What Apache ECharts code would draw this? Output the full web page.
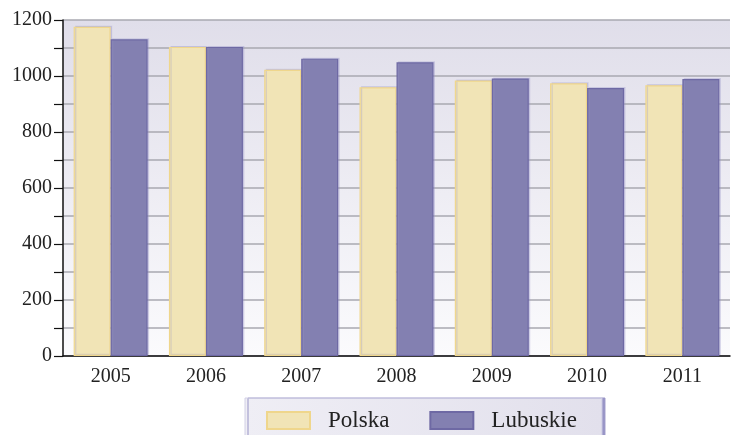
<!DOCTYPE html>
<html>
<head>
<meta charset="utf-8">
<script src="https://cdn.jsdelivr.net/npm/echarts@6/dist/echarts.min.js"></script>
<style>html,body{margin:0;padding:0;background:#fff;}#c{width:733px;height:435px;}</style>
</head>
<body>
<div id="c"></div>
<script>
var years = ['2005', '2006', '2007', '2008', '2009', '2010', '2011'];
var polska = [1176, 1104, 1022, 960, 984, 974, 967];
var lubuskie = [1131, 1104, 1062, 1049, 991, 957, 989];
var seriesNames = ['Polska', 'Lubuskie'];
var yLabelStep = 200;

var chart = echarts.init(document.getElementById('c'), null, {renderer: 'canvas'});
var font = '"Liberation Serif", "DejaVu Serif", serif';
chart.setOption({
  animation: false,
  grid: {
    left: 63, top: 20, right: 3, bottom: 79,
    show: true,
    borderWidth: 0,
    backgroundColor: new echarts.graphic.LinearGradient(0, 0, 0, 1, [
      {offset: 0, color: '#e0deea'},
      {offset: 1, color: '#fbfbfd'}
    ])
  },
  legend: {
    data: seriesNames,
    icon: 'rect',
    left: 245,
    top: 398,
    padding: [11, 25, 14, 21],
    itemWidth: 43,
    itemHeight: 17,
    itemGap: 40,
    backgroundColor: new echarts.graphic.LinearGradient(0, 0, 1, 0, [
      {offset: 0, color: '#efeef5'},
      {offset: 1, color: '#e2e0ec'}
    ]),
    borderColor: '#d2d0e6',
    borderWidth: 1,
    shadowColor: '#9895c6',
    shadowOffsetX: 3,
    shadowBlur: 0,
    textStyle: {fontFamily: font, fontSize: 23, color: '#222', padding: [0, 0, 0, 13]}
  },
  xAxis: {
    type: 'category',
    data: years,
    axisLine: {lineStyle: {color: '#111', width: 1.5}},
    axisTick: {show: false},
    axisLabel: {fontFamily: font, fontSize: 20, color: '#222', margin: 11}
  },
  yAxis: {
    type: 'value',
    min: 0, max: 1200, interval: 100,
    axisLine: {show: true, lineStyle: {color: '#111', width: 1.5}},
    axisTick: {show: true, length: 9, lineStyle: {color: '#111', width: 1.2}},
    axisLabel: {
      fontFamily: font, fontSize: 20, color: '#222', margin: 11,
      formatter: function (v) { return v % yLabelStep === 0 ? String(v) : ''; }
    },
    splitLine: {lineStyle: {color: '#a9a9b1', width: 1.5}}
  },
  series: [
    {
      name: seriesNames[0], type: 'bar', data: polska,
      barWidth: 37, barGap: '0%',
      itemStyle: {color: '#f1e4b6', borderColor: '#efd68c', borderWidth: 1.2,
        shadowColor: 'rgba(150,145,200,0.3)', shadowOffsetX: 1.5, shadowOffsetY: -1}
    },
    {
      name: seriesNames[1], type: 'bar', data: lubuskie,
      barWidth: 37, barGap: '0%',
      itemStyle: {color: '#8380b1', borderColor: '#6e69a4', borderWidth: 1.2,
        shadowColor: 'rgba(150,145,200,0.3)', shadowOffsetX: 1.5, shadowOffsetY: -1}
    }
  ]
});
</script>
</body>
</html>
